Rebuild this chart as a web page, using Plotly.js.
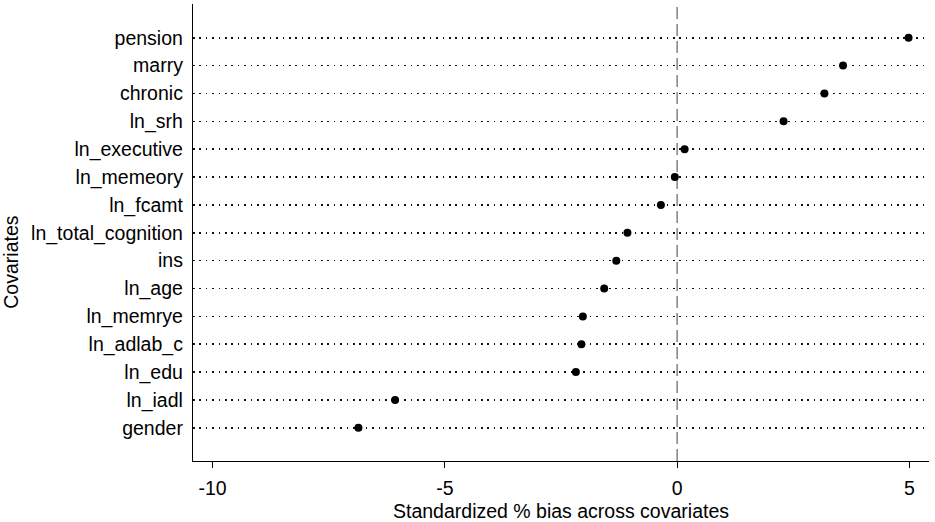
<!DOCTYPE html>
<html>
<head>
<meta charset="utf-8">
<script src="https://cdn.plot.ly/plotly-3.0.1.min.js"></script>
<style>html,body{margin:0;padding:0;background:#fff;}#chart{width:935px;height:522px;}</style>
</head>
<body>
<div id="chart"></div>
<script>
// Covariates listed bottom to top
const covariates = ["gender","ln_iadl","ln_edu","ln_adlab_c","ln_memrye","ln_age","ins","ln_total_cognition","ln_fcamt","ln_memeory","ln_executive","ln_srh","chronic","marry","pension"];
const bias = [-6.86,-6.07,-2.18,-2.06,-2.03,-1.57,-1.31,-1.07,-0.35,-0.05,0.16,2.29,3.17,3.57,4.98];
const xTicks = [-10,-5,0,5];
const xTitle = "Standardized % bias across covariates";
const yTitle = "Covariates";

const font = {family:"Liberation Sans, Arial, sans-serif", size:19.5, color:"#000"};

const trace = {
  type:"scatter", mode:"markers",
  x: bias, y: covariates,
  marker:{color:"#000", size:8},
  hoverinfo:"x+y", showlegend:false, cliponaxis:false
};

const layout = {
  width:935, height:522,
  margin:{l:193, r:6, t:4, b:61},
  paper_bgcolor:"#fff", plot_bgcolor:"#fff",
  font: font,
  xaxis:{
    range:[-10.42,5.42], tickvals:xTicks, ticktext:xTicks.map(String),
    showgrid:false, zeroline:false,
    showline:true, linecolor:"#000", linewidth:1.2,
    ticks:"outside", ticklen:6, tickcolor:"#000", tickwidth:1.2,
    ticklabelstandoff:3,
    tickfont:font,
    title:{text:xTitle, font:font, standoff:8}
  },
  yaxis:{
    type:"category", categoryorder:"array", categoryarray:covariates,
    range:[-1.19,15.21],
    showgrid:true, gridcolor:"#111", gridwidth:1.6, griddash:"1.6px,4.8px",
    zeroline:false, showline:true, linecolor:"#000", linewidth:1.2,
    ticks:"", ticklabelstandoff:5, tickfont:font
  },
  annotations:[{text:yTitle, xref:"paper", yref:"paper", x:-0.2466, y:0.435,
    xanchor:"center", yanchor:"middle", textangle:-90, showarrow:false, font:font}],
  shapes:[{type:"line", xref:"x", yref:"paper", x0:0, x1:0, y0:0, y1:1,
    line:{color:"#8a8a8a", width:1.6, dash:"12px,5px"}, layer:"below"}]
};

Plotly.newPlot("chart", [trace], layout, {displayModeBar:false, staticPlot:true});
</script>
</body>
</html>
